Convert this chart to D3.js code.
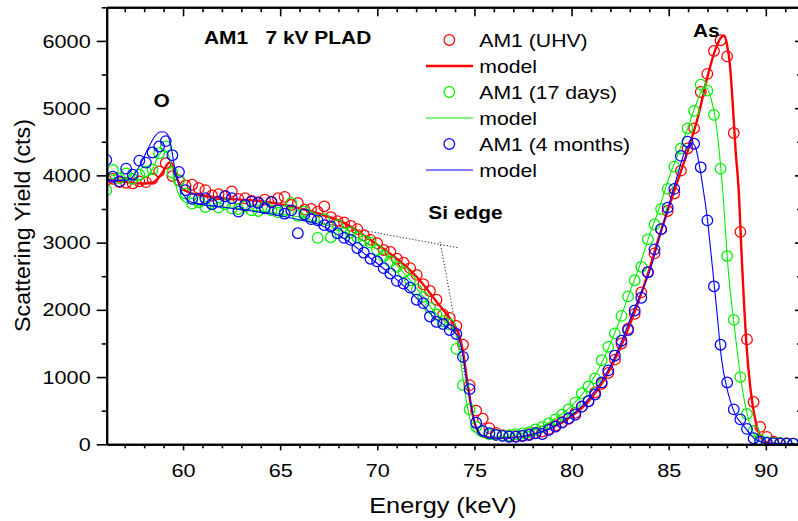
<!DOCTYPE html>
<html>
<head>
<meta charset="utf-8">
<script src="https://cdn.jsdelivr.net/npm/d3@7"></script>
<style>
  body { margin: 0; background: #fff; }
  svg { display: block; }
  text { font-family: "Liberation Sans", Arial, sans-serif; fill: #000; white-space: pre; }
</style>
</head>
<body>
<svg id="chart" width="798" height="521"></svg>
<script>
// measured channels (keV), shared by the three spectra
const energy = [56.05, 56.39, 56.73, 57.07, 57.41, 57.75, 58.09, 58.43, 58.77, 59.11,
  59.45, 59.79, 60.13, 60.47, 60.81, 61.15, 61.49, 61.83, 62.17, 62.51,
  62.85, 63.19, 63.53, 63.87, 64.21, 64.55, 64.89, 65.23, 65.57, 65.91,
  66.25, 66.59, 66.93, 67.27, 67.61, 67.95, 68.29, 68.63, 68.97, 69.31,
  69.65, 69.99, 70.33, 70.67, 71.01, 71.35, 71.69, 72.03, 72.37, 72.71,
  73.05, 73.39, 73.73, 74.07, 74.41, 74.75, 75.09, 75.43, 75.77, 76.11,
  76.45, 76.79, 77.13, 77.47, 77.81, 78.15, 78.49, 78.83, 79.17, 79.51,
  79.85, 80.19, 80.53, 80.87, 81.21, 81.55, 81.89, 82.23, 82.57, 82.91,
  83.25, 83.59, 83.93, 84.27, 84.61, 84.95, 85.29, 85.63, 85.97, 86.31,
  86.65, 86.99, 87.33, 87.67, 88.01, 88.35, 88.69, 89.03, 89.37, 89.71,
  90.05, 90.39, 90.73, 91.07, 91.41];

const uhvCounts = [3930, 3950, 3900, 3890, 3880, 3910, 3900, 3950, 4060, 4180,
  3990, 3930, 3850, 3860, 3810, 3780, 3700, 3720, 3690, 3760,
  3650, 3660, 3620, 3600, 3640, 3610, 3660, 3680, 3560, 3590,
  3490, 3500, 3460, 3540, 3380, 3320, 3300, 3250, 3200, 3110,
  3040, 2990, 2890, 2860, 2760, 2700, 2620, 2520, 2380, 2280,
  2150, 1930, 1880, 1760, 1480, 880, 500, 380, 240, 170,
  135, 120, 120, 130, 150, 170, 190, 230, 280, 330,
  380, 470, 560, 640, 770, 900, 1060, 1260, 1500, 1720,
  1940, 2260, 2560, 2840, 3200, 3470, 3730, 4070, 4400, 4700,
  5240, 5510, 5850, 6010, 5770, 4630, 3160, 1560, 630, 260,
  110, 40, 20, 15, 10];

const days17Counts = [3780, 4080, 3960, 4030, 3950, 4010, 4060, 4090, 4330, 4430,
  4040, 3920, 3730, 3580, 3600, 3530, 3580, 3520, 3570, 3510,
  3500, 3540, 3480, 3470, 3530, 3480, 3450, 3470, 3590, 3400,
  3460, 3380, 3070, 3350, 3080, 3260, 3140, 3150, 3080, 3030,
  3000, 2890, 2800, 2720, 2640, 2560, 2440, 2300, 2190, 2030,
  1930, 1830, 1780, 1420, 880, 520, 260, 190, 150, 140,
  130, 135, 150, 160, 180, 220, 260, 310, 370, 440,
  520, 620, 760, 860, 980, 1250, 1450, 1650, 1910, 2200,
  2440, 2640, 3050, 3270, 3500, 3800, 4130, 4400, 4700, 4960,
  5350, 5260, 4900, 4100, 2800, 1850, 1000, 450, 200, 60,
  30, 20, 15, 10, 8];

const months4Counts = [4230, 3980, 3910, 4100, 4010, 4220, 4190, 4340, 4430, 4510,
  4300, 4050, 3780, 3650, 3650, 3660, 3570, 3610, 3690, 3660,
  3460, 3560, 3610, 3590, 3510, 3600, 3480, 3430, 3480, 3140,
  3420, 3350, 3330, 3260, 3240, 3140, 3070, 3040, 2920, 2850,
  2760, 2720, 2620, 2540, 2430, 2390, 2330, 2150, 2100, 1900,
  1820, 1790, 1700, 1640, 1300, 820, 320, 200, 165, 140,
  125, 113, 113, 124, 138, 164, 153, 213, 262, 322,
  387, 440, 560, 640, 740, 920, 1100, 1320, 1540, 1700,
  1990, 2180, 2560, 2900, 3200, 3520, 3800, 4290, 4500, 4470,
  4120, 3330, 2350, 1480, 920, 520, 370, 230, 90, 40,
  20, 15, 10, 10, 8];

// model curves [keV, counts]
const uhvModel = [[56.07,3930],[57,3905],[57.5,3885],[58,3880],[58.4,3890],[58.7,3950],[59,4070],[59.2,4170],
  [59.35,4195],[59.5,4120],[59.7,3950],[59.9,3820],[60.2,3760],[61,3700],[62,3660],[63,3640],[64,3615],
  [65,3570],[66,3510],[67,3430],[68,3330],[68.5,3260],[69,3170],[69.5,3070],[70,2970],[70.5,2870],
  [71,2760],[71.5,2640],[72,2500],[72.5,2330],[73,2140],[73.5,1960],[74,1760],[74.2,1640],[74.4,1400],
  [74.6,1000],[74.8,620],[75,320],[75.2,180],[75.4,120],[75.8,100],[76.5,95],[77,100],[77.5,115],
  [78,145],[78.5,190],[79,250],[79.5,320],[80,420],[80.5,530],[81,680],[81.5,880],[82,1130],[82.5,1430],
  [83,1780],[83.5,2170],[84,2600],[84.5,3080],[85,3520],[85.5,3950],[86,4380],[86.5,4860],[87,5470],
  [87.4,5870],[87.7,6050],[87.85,6080],[88,5950],[88.15,5650],[88.3,5050],[88.45,4350],[88.6,3800],
  [88.75,2850],[89,1500],[89.2,850],[89.4,450],[89.6,200],[89.8,80],[90,30],[90.5,8],[91.76,3]];

const days17Model = [[56.07,3960],[57,3940],[57.5,3925],[58,3960],[58.4,4080],[58.7,4270],[59,4370],
  [59.2,4330],[59.4,4150],[59.6,3880],[59.8,3700],[60.1,3600],[60.5,3570],[61,3555],[62,3530],[63,3500],
  [64,3470],[65,3430],[66,3380],[67,3300],[68,3200],[69,3070],[70,2900],[71,2660],[72,2330],[72.5,2140],
  [73,1950],[73.5,1830],[73.8,1760],[74,1680],[74.2,1420],[74.4,1000],[74.6,620],[74.8,340],[75,190],
  [75.3,120],[75.8,100],[76.5,110],[77,130],[77.5,160],[78,210],[78.5,270],[79,350],[79.5,450],[80,570],
  [80.5,730],[81,920],[81.5,1180],[82,1500],[82.5,1860],[83,2270],[83.5,2650],[84,3100],[84.5,3500],
  [85,3950],[85.5,4330],[86,4720],[86.4,5050],[86.75,5280],[86.95,5300],[87.15,5170],[87.45,4750],
  [87.8,3700],[88.05,2650],[88.4,1700],[88.75,900],[89.1,380],[89.4,150],[89.7,50],[90.1,10],[91.76,5]];

const months4Model = [[56.07,3930],[56.5,3925],[57,3925],[57.3,3950],[57.6,4060],[57.9,4220],[58.2,4400],
  [58.5,4560],[58.8,4645],[59,4650],[59.2,4610],[59.4,4400],[59.6,4060],[59.8,3850],[60,3720],[60.3,3620],
  [60.7,3580],[61,3565],[62,3530],[63,3490],[64,3450],[65,3400],[66,3340],[67,3270],[67.5,3200],[68,3110],
  [68.5,3020],[69,2910],[69.5,2800],[70,2690],[70.5,2570],[71,2450],[71.5,2320],[72,2180],[72.5,2020],
  [73,1870],[73.5,1760],[74,1660],[74.2,1580],[74.4,1330],[74.6,950],[74.8,620],[75,340],[75.2,190],
  [75.4,130],[75.8,100],[76.5,90],[77,100],[77.5,120],[78,150],[78.5,190],[79,250],[79.5,330],[80,430],
  [80.5,560],[81,720],[81.5,920],[82,1170],[82.5,1480],[83,1850],[83.5,2200],[84,2550],[84.5,3050],
  [85,3550],[85.5,4050],[85.8,4330],[86,4440],[86.2,4480],[86.4,4400],[86.6,4120],[86.8,3750],[87,3330],
  [87.2,2780],[87.47,2010],[87.72,1270],[88.06,760],[88.4,460],[88.9,260],[89.4,90],[89.8,30],[90.3,10],[91.76,5]];

const seriesNames = ["AM1 (UHV)", "AM1 (17 days)", "AM1 (4 months)"];
const seriesColors = ["#ff0000", "#00f000", "#0000ff"];
const modelWidths = [2.4, 1.1, 1.1];

const xMajorTicks = [60, 65, 70, 75, 80, 85, 90];
const xMinorTicks = [57, 58, 59, 61, 62, 63, 64, 66, 67, 68, 69, 71, 72, 73, 74, 76, 77, 78, 79, 81, 82, 83, 84, 86, 87, 88, 89, 91];
const yMajorTicks = [0, 1000, 2000, 3000, 4000, 5000, 6000];
const yMinorTicks = [500, 1500, 2500, 3500, 4500, 5500, 6500];

// dotted tangent lines marking the Si edge
const siEdgeLines = [[[66.61, 3323], [74.21, 2921]], [[73.23, 3010], [74.82, 540]]];

const annotations = [
  {text: "AM1   7 kV PLAD", e: 61.08, c: 5955, anchor: "start"},
  {text: "O", e: 58.9, c: 5013, anchor: "middle"},
  {text: "As", e: 86.94, c: 6064, anchor: "middle"},
  {text: "Si edge", e: 72.62, c: 3352, anchor: "start"}
];

const plotLeft = 106.7, plotRight = 800, plotTop = 7.3, plotBottom = 444.3;
const stretch = 1.14;

const svg = d3.select("#chart");
const x = d3.scaleLinear().domain([56.07, 91.76]).range([plotLeft, plotRight]);
const y = d3.scaleLinear().domain([0, 6500]).range([plotBottom, plotTop]);

svg.append("clipPath").attr("id", "plot-clip")
  .append("rect").attr("x", plotLeft).attr("y", plotTop)
  .attr("width", plotRight - plotLeft).attr("height", plotBottom - plotTop);

const plot = svg.append("g").attr("clip-path", "url(#plot-clip)");

const line = d3.line().x(d => x(d[0])).y(d => y(d[1])).curve(d3.curveMonotoneX);

// dotted Si edge guides
siEdgeLines.forEach(seg => {
  plot.append("path")
    .attr("d", d3.line().x(d => x(d[0])).y(d => y(d[1]))(seg))
    .attr("fill", "none").attr("stroke", "#222").attr("stroke-width", 1)
    .attr("stroke-dasharray", "1.2,2");
});

const counts = [uhvCounts, days17Counts, months4Counts];
const models = [uhvModel, days17Model, months4Model];

counts.forEach((vals, k) => {
  plot.append("g").selectAll("circle")
    .data(vals.map((v, i) => [energy[i], v]))
    .join("circle")
    .attr("cx", d => x(d[0])).attr("cy", d => y(d[1])).attr("r", 5.3)
    .attr("fill", "none").attr("stroke", seriesColors[k]).attr("stroke-width", 1.25);

  plot.append("path").datum(models[k])
    .attr("d", line)
    .attr("fill", "none").attr("stroke", seriesColors[k]).attr("stroke-width", modelWidths[k]);
});

// axes
function styleAxis(g) {
  g.select(".domain").attr("stroke", "#000").attr("stroke-width", 2);
  g.selectAll(".tick line").attr("stroke", "#000").attr("stroke-width", 1.6);
}

const bottomAxis = svg.append("g").attr("transform", `translate(0,${plotBottom})`)
  .call(d3.axisBottom(x).tickValues(xMajorTicks).tickSize(6).tickSizeOuter(0).tickPadding(13));
bottomAxis.call(styleAxis);
bottomAxis.selectAll("text").attr("font-size", 19).attr("transform", `scale(${stretch},1)`);
svg.append("g").attr("transform", `translate(0,${plotBottom})`)
  .call(d3.axisBottom(x).tickValues(xMinorTicks).tickSize(4).tickSizeOuter(0).tickFormat(""))
  .call(styleAxis);

const leftAxis = svg.append("g").attr("transform", `translate(${plotLeft},0)`)
  .call(d3.axisLeft(y).tickValues(yMajorTicks).tickSize(10).tickSizeOuter(0).tickPadding(6)
    .tickFormat(d3.format("d")));
leftAxis.call(styleAxis);
leftAxis.selectAll("text").attr("font-size", 19).attr("x", -16 / stretch)
  .attr("transform", `scale(${stretch},1)`);
svg.append("g").attr("transform", `translate(${plotLeft},0)`)
  .call(d3.axisLeft(y).tickValues(yMinorTicks).tickSize(5).tickSizeOuter(0).tickFormat(""))
  .call(styleAxis);

svg.append("g").attr("transform", `translate(0,${plotTop})`)
  .call(d3.axisTop(x).tickValues(xMajorTicks).tickSize(-9).tickSizeOuter(0).tickFormat(""))
  .call(styleAxis);
svg.append("g").attr("transform", `translate(0,${plotTop})`)
  .call(d3.axisTop(x).tickValues(xMinorTicks).tickSize(-5).tickSizeOuter(0).tickFormat(""))
  .call(styleAxis);

svg.append("g").attr("transform", `translate(${plotRight},0)`)
  .call(d3.axisRight(y).tickValues(yMajorTicks).tickSize(-5).tickSizeOuter(0).tickFormat(""))
  .call(styleAxis);
svg.append("g").attr("transform", `translate(${plotRight},0)`)
  .call(d3.axisRight(y).tickValues(yMinorTicks).tickSize(-3).tickSizeOuter(0).tickFormat(""))
  .call(styleAxis);

// axis titles
svg.append("text")
  .attr("transform", `translate(443,513) scale(1.15,1)`)
  .attr("text-anchor", "middle").attr("font-size", 22)
  .text("Energy (keV)");
svg.append("text")
  .attr("transform", `translate(30,225.5) rotate(-90) scale(1.08,1)`)
  .attr("text-anchor", "middle").attr("font-size", 21.5)
  .text("Scattering Yield (cts)");

// annotations
annotations.forEach(a => {
  svg.append("text")
    .attr("transform", `translate(${x(a.e)},${y(a.c)}) scale(1.1,1)`)
    .attr("text-anchor", a.anchor).attr("font-size", 19).attr("font-weight", "bold")
    .text(a.text);
});

// legend
const legend = svg.append("g");
seriesNames.forEach((name, k) => {
  const rowPt = 40 + k * 52, rowLine = rowPt + 26;
  legend.append("circle").attr("cx", 449.3).attr("cy", rowPt).attr("r", 5.3)
    .attr("fill", "none").attr("stroke", seriesColors[k]).attr("stroke-width", 1.25);
  legend.append("line").attr("x1", 426).attr("x2", 473).attr("y1", rowLine).attr("y2", rowLine)
    .attr("stroke", seriesColors[k]).attr("stroke-width", modelWidths[k]);
  legend.append("text").attr("transform", `translate(479.3,${rowPt}) scale(${stretch},1)`)
    .attr("dy", "0.35em").attr("font-size", 18.6).text(name);
  legend.append("text").attr("transform", `translate(479.3,${rowLine}) scale(${stretch},1)`)
    .attr("dy", "0.35em").attr("font-size", 18.6).text("model");
});
</script>
</body>
</html>
